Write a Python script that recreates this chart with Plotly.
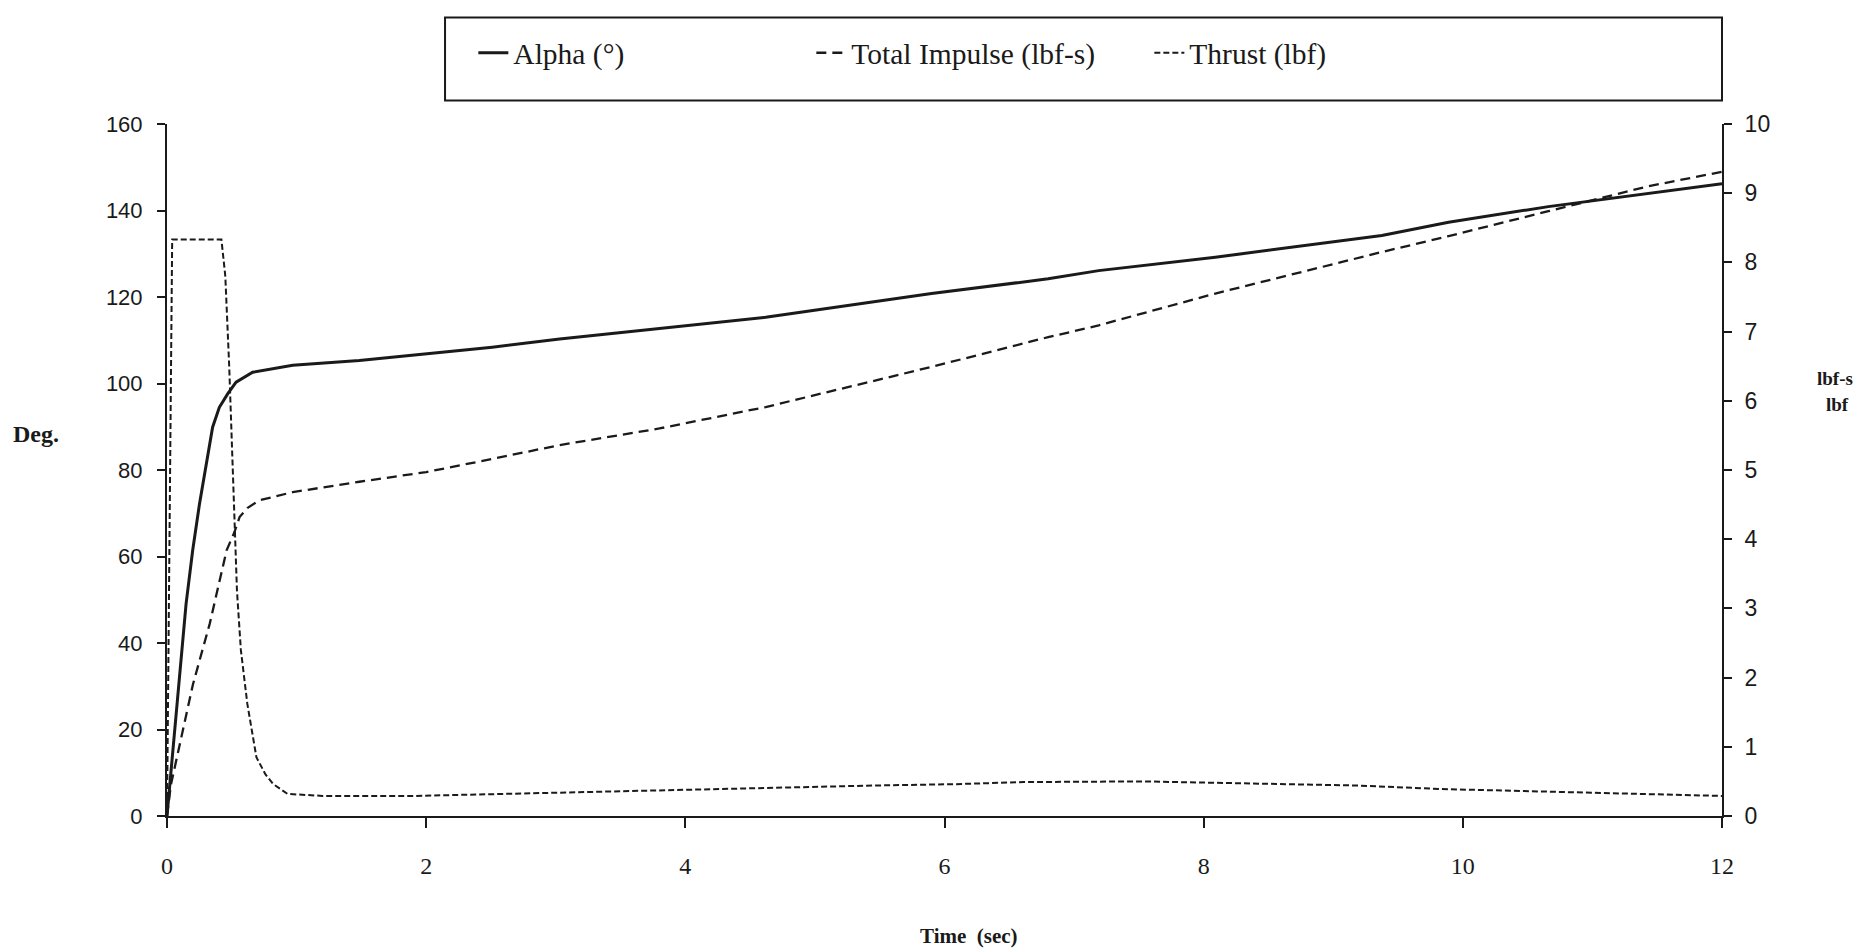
import plotly.graph_objects as go

# ---- data ----
alpha_t = [0, 0.07, 0.147, 0.198, 0.25, 0.352, 0.404, 0.468, 0.533, 0.661, 0.97, 1.484,
           2.0, 2.51, 3.03, 3.8, 4.62, 5.9, 6.8, 7.19, 8.09, 9.375, 9.89, 10.66, 11.43, 12.0]
alpha_deg = [0, 24, 49, 61.4, 72, 89.9, 94.5, 97.6, 100.3, 102.6, 104.2, 105.3,
             106.9, 108.4, 110.3, 112.7, 115.3, 120.8, 124.2, 126.1, 129.2, 134.2, 137.3, 140.9, 143.9, 146.2]

impulse_t = [0, 0.03, 0.2, 0.33, 0.46, 0.52, 0.56, 0.62, 0.71, 0.85, 0.97, 1.484,
             2.0, 2.51, 3.03, 3.8, 4.62, 5.9, 6.8, 7.19, 8.09, 9.375, 9.89, 10.66, 11.43, 12.0]
impulse_lbfs = [0, 0.45, 1.9, 2.78, 3.84, 4.1, 4.32, 4.45, 4.56, 4.63, 4.68, 4.83,
                4.97, 5.16, 5.36, 5.60, 5.91, 6.49, 6.92, 7.09, 7.55, 8.15, 8.38, 8.74, 9.10, 9.31]

thrust_t = [0, 0.04, 0.42, 0.45, 0.48, 0.51, 0.54, 0.57, 0.62, 0.69, 0.76, 0.82, 0.93,
            1.2, 1.91, 3.09, 3.87, 4.66, 5.45, 6.08, 6.61, 7.53, 8.15, 9.2, 9.83, 10.45, 11.08, 11.92, 12.0]
thrust_lbf = [0, 8.33, 8.33, 7.8, 6.5, 5.0, 3.25, 2.4, 1.62, 0.85, 0.6, 0.46, 0.32,
              0.29, 0.29, 0.34, 0.375, 0.40, 0.44, 0.46, 0.49, 0.50, 0.475, 0.44, 0.39, 0.36, 0.34, 0.29, 0.29]

legend_names = ["Alpha (°)", "Total Impulse (lbf-s)", "Thrust (lbf)"]
x_ticks = [0, 2, 4, 6, 8, 10, 12]
y_ticks = [0, 20, 40, 60, 80, 100, 120, 140, 160]
y2_ticks = list(range(0, 11))

INK = "#1a1a1a"
SERIF = "Liberation Serif, Times New Roman, serif"
SANS = "Liberation Sans, Arial, sans-serif"

fig = go.Figure()
fig.add_trace(go.Scatter(x=alpha_t, y=alpha_deg, name=legend_names[0], mode="lines",
                         line=dict(color=INK, width=3.0, dash="solid"), yaxis="y"))
fig.add_trace(go.Scatter(x=impulse_t, y=impulse_lbfs, name=legend_names[1], mode="lines",
                         line=dict(color=INK, width=2.3, dash="10px,6px"), yaxis="y2"))
fig.add_trace(go.Scatter(x=thrust_t, y=thrust_lbf, name=legend_names[2], mode="lines",
                         line=dict(color=INK, width=2.0, dash="6px,3px"), yaxis="y2"))

ann_font = dict(family=SERIF, color=INK)

fig.update_layout(
    # the page body adds an 8px offset; shrink the figure to compensate
    width=1856, height=944,
    margin=dict(l=159, r=142, t=116, b=136),
    paper_bgcolor="white", plot_bgcolor="white",
    showlegend=True,
    legend=dict(orientation="h", x=0.197, xanchor="left", y=1.1025, yanchor="middle",
                font=dict(family=SERIF, size=29.5, color=INK),
                bgcolor="rgba(0,0,0,0)", borderwidth=0,
                entrywidth=293, entrywidthmode="pixels", itemwidth=30),
    xaxis=dict(range=[0, 12], tickvals=x_ticks, showgrid=False, zeroline=False,
               showline=True, linecolor=INK, linewidth=2,
               ticks="outside", ticklen=10, tickwidth=2, tickcolor=INK,
               tickfont=dict(family=SERIF, size=24, color=INK), ticklabelstandoff=17),
    yaxis=dict(range=[0, 160], tickvals=y_ticks, showgrid=False, zeroline=False,
               showline=True, linecolor=INK, linewidth=2,
               ticks="outside", ticklen=8, tickwidth=1.5, tickcolor=INK,
               tickfont=dict(family=SANS, size=22, color=INK), ticklabelstandoff=10),
    yaxis2=dict(range=[0, 10], tickvals=y2_ticks, overlaying="y", side="right",
                showgrid=False, zeroline=False,
                showline=True, linecolor=INK, linewidth=2,
                ticks="outside", ticklen=8, tickwidth=1.5, tickcolor=INK,
                tickfont=dict(family=SANS, size=23, color=INK), ticklabelstandoff=8),
    shapes=[dict(type="rect", xref="paper", yref="paper", x0=0.1788, x1=1.0, y0=1.034, y1=1.154,
                 line=dict(color=INK, width=2), fillcolor="rgba(0,0,0,0)")],
    annotations=[
        dict(text="<b>Deg.</b>", xref="paper", yref="paper", x=-0.0842, y=0.5514,
             xanchor="center", yanchor="middle", showarrow=False, font=dict(size=24, **ann_font)),
        dict(text="<b>Time  (sec)</b>", xref="paper", yref="paper", x=0.5158, y=-0.174,
             xanchor="center", yanchor="middle", showarrow=False, font=dict(size=21, **ann_font)),
        dict(text="<b>lbf-s</b>", xref="paper", yref="paper", x=1.0725, y=0.6323,
             xanchor="center", yanchor="middle", showarrow=False, font=dict(size=19, **ann_font)),
        dict(text="<b>lbf</b>", xref="paper", yref="paper", x=1.0745, y=0.5947,
             xanchor="center", yanchor="middle", showarrow=False, font=dict(size=19, **ann_font)),
    ],
)

fig.write_html("out.html")
